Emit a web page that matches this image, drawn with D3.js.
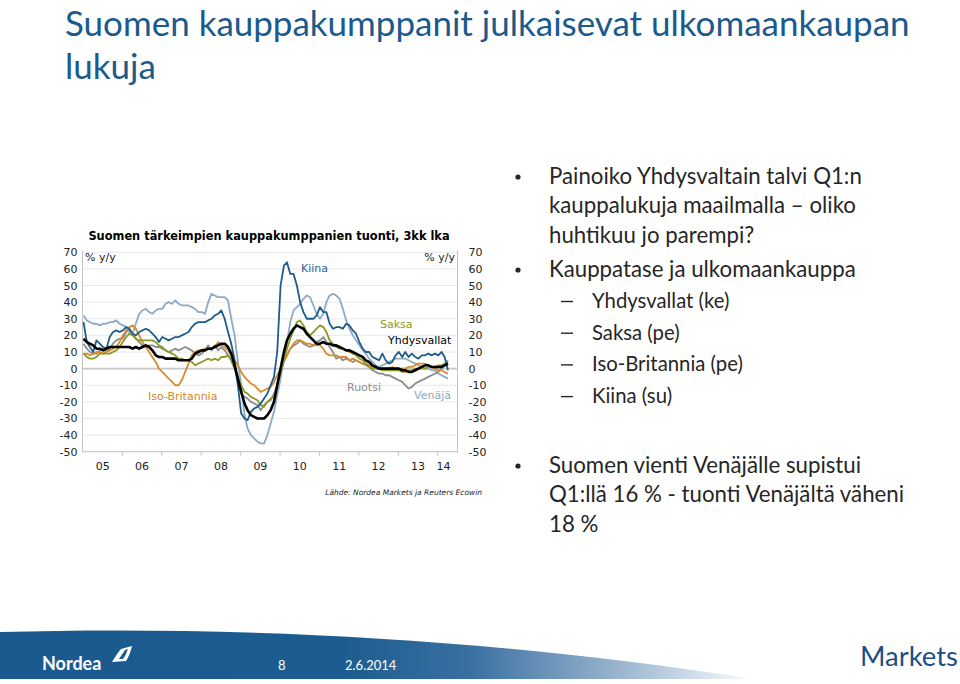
<!DOCTYPE html>
<html>
<head>
<meta charset="utf-8">
<script src="https://cdn.jsdelivr.net/npm/d3@7"></script>
<style>
  body { margin: 0; background: #fff; }
  svg { display: block; }
</style>
</head>
<body>
<div id="slide"></div>
<script>
// monthly data, Jan 2005 .. Apr 2014 (% y/y, 3kk lka)
const startYear = 2005;
const yearLabels = ["05", "06", "07", "08", "09", "10", "11", "12", "13", "14"];
const yTicks = [70, 60, 50, 40, 30, 20, 10, 0, -10, -20, -30, -40, -50];

const venaja = [32,29,28,27,27,26,27,27,28,28,29,27,
  26,25,22,21,27,33,35,36,34,33,35,36,
  36,39,40,39,41,39,38,38,38,37,36,34,
  34,33,40,45,44,43,43,43,41,30,20,4,
  -10,-28,-36,-40,-42,-44,-45,-45,-40,-33,-26,-16,
  -6,6,16,28,35,37,39,42,44,43,38,33,
  30,33,40,44,45,44,42,36,29,24,20,17,
  14,11,9,6,4,2,1,2,3,4,5,6,
  6,6,6,5,4,3,2,1,0,0,-1,-1,
  -3,-4,-5,-6];

const ruotsi = [15,12,10,9,9,11,12,10,12,15,17,18,
  18,22,24,21,18,16,14,13,14,14,13,13,
  12,11,10,11,12,11,12,13,12,11,9,8,
  9,11,14,11,14,11,13,11,8,5,0,-8,
  -15,-17,-18,-20,-21,-22,-25,-22,-20,-19,-15,-10,
  -2,4,8,12,14,15,17,15,14,13,14,16,
  17,19,16,13,10,6,7,5,6,5,4,5,
  4,3,2,1,-1,-2,-3,-3,-4,-4,-5,-6,
  -7,-8,-10,-12,-11,-9,-8,-7,-6,-5,-4,-3,
  -2,0,2,5];

const isoBritannia = [9,9,8,9,10,10,9,10,11,12,13,16,
  20,23,25,26,24,20,16,13,10,7,4,0,
  -2,-4,-6,-8,-10,-10,-7,-2,3,8,10,11,
  11,12,12,12,13,16,14,13,11,8,5,2,
  -2,-5,-7,-9,-10,-12,-14,-13,-12,-11,-8,-4,
  0,5,8,12,15,17,17,16,15,15,14,14,
  14,12,9,8,8,8,7,7,7,5,6,5,
  4,3,3,2,1,0,0,0,0,0,1,0,
  0,0,0,1,1,2,3,3,3,2,1,0,
  -1,-1,-2,-3];

const saksa = [9,7,6,6,7,9,9,9,9,10,11,13,
  16,19,21,20,18,17,17,17,17,17,16,14,
  13,11,10,9,8,6,6,5,5,4,2,3,
  4,5,6,5,6,5,7,7,8,5,0,-5,
  -10,-14,-15,-17,-18,-19,-22,-23,-20,-18,-17,-10,
  -2,5,12,18,23,28,29,26,22,20,22,24,
  26,25,22,17,15,13,12,12,11,10,9,8,
  6,5,3,1,0,0,0,-1,-1,-1,-1,-1,
  -1,-2,-2,-1,-1,0,0,0,0,1,1,1,
  2,2,3,4];

const kiina = [28,16,13,10,17,15,13,12,19,22,23,22,
  23,25,24,21,20,22,23,24,23,21,19,16,
  19,18,17,18,19,19,20,21,22,25,27,28,
  28,28,29,30,32,33,35,30,22,15,5,-10,
  -27,-30,-31,-26,-24,-23,-21,-18,-15,-10,-5,10,
  50,62,64,57,57,50,40,34,30,30,30,32,
  37,34,34,27,24,25,25,24,27,26,23,21,
  16,12,10,10,7,6,5,9,5,3,4,8,
  10,7,10,7,9,7,6,8,8,9,8,9,
  8,10,7,-1];

const yhdysvallat = [18,16,15,14,12,12,11,12,13,13,13,13,
  13,13,13,12,13,12,13,14,13,11,8,7,
  7,6,6,6,6,5,5,5,5,6,9,10,
  11,11,12,12,13,14,15,15,13,9,2,-6,
  -14,-21,-25,-28,-29,-30,-30,-30,-28,-25,-20,-10,
  0,10,17,21,24,26,25,24,21,19,17,15,
  15,16,15,15,14,14,13,12,11,11,10,9,
  8,7,5,4,2,1,0,0,0,0,0,0,
  0,-1,-1,-2,-2,-1,0,1,2,2,1,1,
  1,1,2,3];

const seriesNames = ["Venäjä", "Ruotsi", "Iso-Britannia", "Saksa", "Kiina", "Yhdysvallat"];
const seriesValues = [venaja, ruotsi, isoBritannia, saksa, kiina, yhdysvallat];
const seriesColors = ["#8ea9c6", "#8c8c8c", "#d98a2b", "#8d9a22", "#1e5c8c", "#000000"];
const seriesWidths = [1.8, 1.8, 1.8, 1.8, 1.8, 2.6];

const bullets = [
  ["Painoiko Yhdysvaltain talvi Q1:n", "kauppalukuja maailmalla – oliko", "huhtikuu jo parempi?"],
  ["Kauppatase ja ulkomaankauppa"]
];
const subItems = ["Yhdysvallat (ke)", "Saksa (pe)", "Iso-Britannia (pe)", "Kiina (su)"];
const lastBullet = ["Suomen vienti Venäjälle supistui", "Q1:llä 16 % - tuonti Venäjältä väheni", "18 %"];

const W = 960, H = 684;
const svg = d3.select("#slide").append("svg")
  .attr("width", W).attr("height", H);

// fit a text node's font size so its width matches the picture
function fit(sel, width) {
  const fs = parseFloat(sel.attr("font-size"));
  const len = sel.node().getComputedTextLength();
  return fs * width / len;
}

// ---- title
const title = svg.append("text")
  .attr("x", 65).attr("y", 36)
  .attr("font-family", "Lato").attr("font-size", 36)
  .attr("fill", "#1a5a8c")
  .text("Suomen kauppakumppanit julkaisevat ulkomaankaupan");
const titleSize = fit(title, 845);
title.attr("font-size", titleSize);
svg.append("text")
  .attr("x", 65).attr("y", 79)
  .attr("font-family", "Lato").attr("font-size", titleSize)
  .attr("fill", "#1a5a8c")
  .text("lukuja");

// ---- chart
const x = d3.scaleTime()
  .domain([new Date(2005, 0, 1), new Date(2014, 6, 1)])
  .range([83, 457.3]);
const y = d3.scaleLinear().domain([-50, 70]).range([451.7, 252.3]);

const chart = svg.append("g").attr("font-family", "DejaVu Sans");

chart.append("text")
  .attr("x", 269).attr("y", 240)
  .attr("text-anchor", "middle")
  .attr("font-weight", "bold").attr("font-size", 11.4)
  .attr("fill", "#000")
  .text("Suomen tärkeimpien kauppakumppanien tuonti, 3kk lka");

// gridlines
chart.append("g")
  .selectAll("line")
  .data(yTicks)
  .join("line")
  .attr("x1", 83).attr("x2", 457)
  .attr("y1", d => y(d)).attr("y2", d => y(d))
  .attr("stroke", d => d === 0 ? "#c8c8c8" : "#e8e8e8")
  .attr("stroke-width", d => d === 0 ? 1.6 : 1);

// left and right axes
const fmt = d => String(d);
const yLeft = chart.append("g")
  .attr("transform", "translate(82.5,0)")
  .call(d3.axisLeft(y).tickValues(yTicks).tickFormat(fmt).tickSize(0).tickPadding(5));
const yRight = chart.append("g")
  .attr("transform", "translate(457.5,0)")
  .call(d3.axisRight(y).tickValues(yTicks).tickFormat(fmt).tickSize(0).tickPadding(11));
[yLeft, yRight].forEach(g => {
  g.select(".domain").attr("stroke", "#c4c4c4").attr("d", `M0,${y(70) - 2}V${y(-50) + 1}`);
  g.selectAll("text").attr("font-size", 11).attr("fill", "#222").attr("font-family", "DejaVu Sans");
});

// x axis: ticks at year starts, labels mid-year
const years = d3.range(2005, 2015).map(yr => new Date(yr, 0, 1));
chart.append("g")
  .selectAll("line")
  .data(years.slice(1))
  .join("line")
  .attr("x1", d => x(d)).attr("x2", d => x(d))
  .attr("y1", y(-50)).attr("y2", y(-50) + 4)
  .attr("stroke", "#c4c4c4");
chart.append("line")
  .attr("x1", 83).attr("x2", 457)
  .attr("y1", y(-50)).attr("y2", y(-50))
  .attr("stroke", "#c4c4c4");
chart.append("g")
  .selectAll("text")
  .data(yearLabels)
  .join("text")
  .attr("x", (d, i) => {
    const a = years[i];
    const b = i < 9 ? years[i + 1] : x.domain()[1];
    return (x(a) + x(b)) / 2 - (i === 9 ? 4 : 0);
  })
  .attr("y", 470)
  .attr("text-anchor", "middle")
  .attr("font-size", 11).attr("fill", "#222")
  .text(d => d);

chart.append("text").attr("x", 85).attr("y", 261)
  .attr("font-size", 11).attr("fill", "#222").text("% y/y");
chart.append("text").attr("x", 455).attr("y", 261)
  .attr("text-anchor", "end")
  .attr("font-size", 11).attr("fill", "#222").text("% y/y");

// lines
const line = d3.line()
  .x((d, i) => x(d3.timeMonth.offset(new Date(startYear, 0, 1), i)) + 0.5)
  .y(d => y(d));
chart.append("g")
  .selectAll("path")
  .data(seriesValues)
  .join("path")
  .attr("d", d => line(d))
  .attr("fill", "none")
  .attr("stroke", (d, i) => seriesColors[i])
  .attr("stroke-width", (d, i) => seriesWidths[i])
  .attr("stroke-linejoin", "round");

// series labels
const seriesLabels = [
  { name: "Kiina", x: 301, y: 272, color: "#2a6496" },
  { name: "Saksa", x: 380, y: 328, color: "#8d9a22" },
  { name: "Yhdysvallat", x: 388, y: 344, color: "#000000" },
  { name: "Ruotsi", x: 347, y: 391, color: "#8c8c8c" },
  { name: "Venäjä", x: 414, y: 399, color: "#8ea9c6" },
  { name: "Iso-Britannia", x: 148, y: 400, color: "#d4872e" }
];
chart.append("g")
  .selectAll("text")
  .data(seriesLabels)
  .join("text")
  .attr("x", d => d.x).attr("y", d => d.y)
  .attr("font-size", 11)
  .attr("fill", d => d.color)
  .text(d => d.name);

chart.append("text")
  .attr("x", 482).attr("y", 495)
  .attr("text-anchor", "end")
  .attr("font-size", 7.5).attr("font-style", "italic")
  .attr("fill", "#222")
  .text("Lähde: Nordea Markets ja Reuters Ecowin");

// ---- bullets on the right
const txt = svg.append("g").attr("font-family", "Lato").attr("fill", "#262626");
const probe = txt.append("text").attr("font-size", 20).text(bullets[0][0]);
const bulletSize = fit(probe, 313);
probe.remove();
const probe2 = txt.append("text").attr("font-size", 20).text(subItems[2]);
const subSize = fit(probe2, 151);
probe2.remove();

function bulletBlock(lines, top) {
  txt.append("circle").attr("cx", 518).attr("cy", top - 7).attr("r", 2.6).attr("fill", "#262626");
  txt.append("g").selectAll("text")
    .data(lines)
    .join("text")
    .attr("x", 549)
    .attr("y", (d, i) => top + i * 29.3)
    .attr("font-size", bulletSize)
    .text(d => d);
}
bulletBlock(bullets[0], 184);
bulletBlock(bullets[1], 277);
bulletBlock(lastBullet, 473);

txt.append("g").selectAll("g")
  .data(subItems)
  .join("g")
  .each(function(d, i) {
    const g = d3.select(this);
    const yy = 308 + i * 31.7;
    g.append("line").attr("x1", 561).attr("x2", 573)
      .attr("y1", yy - 6.5).attr("y2", yy - 6.5)
      .attr("stroke", "#262626").attr("stroke-width", 1.4);
    g.append("text").attr("x", 592).attr("y", yy)
      .attr("font-size", subSize).text(d);
  });

// ---- footer band
const defs = svg.append("defs");
const grad = defs.append("linearGradient").attr("id", "band")
  .attr("gradientUnits", "userSpaceOnUse")
  .attr("x1", 0).attr("x2", 760).attr("y1", 0).attr("y2", 0);
[[0, "#1b5a8e"], [0.45, "#1d5c90"], [0.62, "#3a70a2"], [0.82, "#9db7d0"], [1, "#ffffff"]]
  .forEach(([o, c]) => grad.append("stop").attr("offset", o).attr("stop-color", c));

svg.append("path")
  .attr("d", "M0,632 C220,626 480,636 760,680 L760,679 L0,679 Z")
  .attr("fill", "url(#band)");

svg.append("text")
  .attr("x", 42).attr("y", 670)
  .attr("font-family", "Lato").attr("font-weight", "bold")
  .attr("font-size", 18).attr("fill", "#fff")
  .text("Nordea");
// sail mark
svg.append("path")
  .attr("d", "M112,662 Q118,652 121,649 L132,646 Q130,655 126,661 Z")
  .attr("fill", "#fff");
svg.append("path")
  .attr("d", "M119,659 Q123,653 125,650 L128,649 Q126,655 123,659 Z")
  .attr("fill", "#1b5a8e");

svg.append("text")
  .attr("x", 278).attr("y", 670)
  .attr("font-family", "Lato").attr("font-size", 13)
  .attr("fill", "#fff").text("8");
svg.append("text")
  .attr("x", 345).attr("y", 670)
  .attr("font-family", "Lato").attr("font-size", 13)
  .attr("fill", "#fff").text("2.6.2014");

const mk = svg.append("text")
  .attr("x", 860).attr("y", 666)
  .attr("font-family", "Lato").attr("font-size", 24)
  .attr("fill", "#1f4e87").text("Markets");
mk.attr("font-size", fit(mk, 98));
</script>
</body>
</html>
